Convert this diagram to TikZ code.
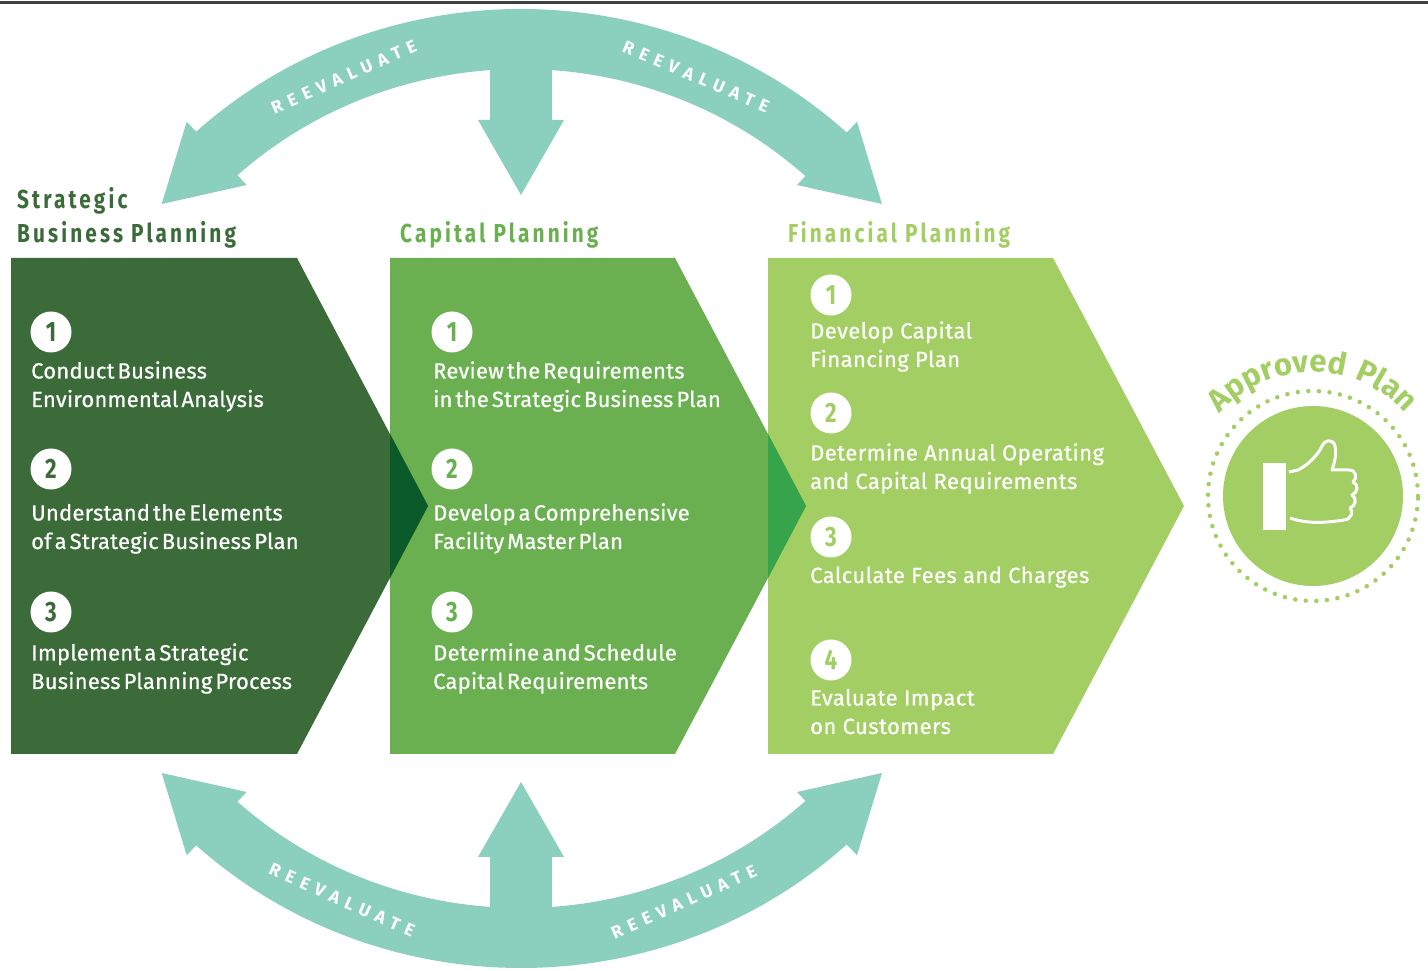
\documentclass[tikz,border=0pt]{standalone}
\usepackage{fontspec}
\setmainfont{Fira Sans}[FakeBold=0.5]
\newfontfamily\bodyfont{Fira Sans}[FakeBold=0.6, WordSpace=0.5, LetterSpace=1]
\newfontfamily\bodyfontB{Fira Sans}[FakeBold=0.6, LetterSpace=2]
\newfontfamily\condfont{Fira Sans}[FakeStretch=0.8, LetterSpace=12]
\newfontfamily\numfont{Fira Sans}[FakeStretch=0.8]
\newfontfamily\capsfont{Fira Sans}[LetterSpace=38]
\newfontfamily\apfont{Fira Sans}[LetterSpace=6]
\usetikzlibrary{decorations.text}
\definecolor{cA}{HTML}{3B6B38}
\definecolor{cB}{HTML}{6AAF50}
\definecolor{cC}{HTML}{A3CE63}
\definecolor{ovA}{HTML}{0B5A29}
\definecolor{ovB}{HTML}{35A44A}
\definecolor{tealband}{HTML}{8BD0BE}
\newcommand\myReevalShape{%
  \coordinate (bl) at (214,814);
  \coordinate (br) at (828,814);
  \draw[bandline] (bl) .. controls (387,970) and (655,970) .. (br);
  \fill[tealband] (161.7,766) -- (186.7,848.3) -- (246.7,785) -- cycle;
  \fill[tealband] (882,766) -- (857,848.3) -- (797,785) -- cycle;
  \fill[tealband] (490,930) rectangle (552,849);
  \fill[tealband] (478,850) -- (564,850) -- (521,775) -- cycle;
}
\begin{document}
\begin{tikzpicture}[x=1pt,y=1pt,
  bandline/.style={draw=tealband, line width=60pt},
  titletext/.style={anchor=base west, inner sep=0pt, font=\condfont\bfseries\fontsize{26}{34}\selectfont},
  itemtext/.style={anchor=base west, inner sep=0pt, align=left, text=white, font=\bodyfont\fontsize{22}{28.5}\selectfont},
  itemtextB/.style={anchor=base west, inner sep=0pt, align=left, text=white, font=\bodyfontB\fontsize{22}{28.5}\selectfont},
  numcircle/.style={circle, fill=white, minimum size=41pt, inner sep=0pt, font=\numfont\bfseries\fontsize{28}{28}\selectfont},
  reeval/.style={text=white, inner sep=0pt, font=\capsfont\bfseries\fontsize{17.5}{17.5}\selectfont}
]
\useasboundingbox (0,0) rectangle (1428,970);
\fill[white] (0,0) rectangle (1428,970);
\draw[line width=3pt, black!75] (0,967.5) -- (1428,967.5);

% re-evaluate arrows
\myReevalShape
\begin{scope}[yshift=963pt, yscale=-1]
\myReevalShape
\end{scope}
\node[reeval, rotate=24] (rv1) at (344,893) {REEVALUATE};
\node[reeval, rotate=-23] (rv2) at (696,893) {REEVALUATE};
\node[reeval, rotate=-24] (rv3) at (342,70) {REEVALUATE};
\node[reeval, rotate=24] (rv4) at (684,68) {REEVALUATE};

% chevrons
\fill[cC] (768,712) -- (1053,712) -- (1184,464) -- (1053,216) -- (768,216) -- cycle;
\fill[cB] (390,712) -- (675,712) -- (806,464) -- (675,216) -- (390,216) -- cycle;
\fill[cA] (11,712) -- (297,712) -- (428,464) -- (297,216) -- (11,216) -- cycle;
\fill[ovA] (390,536) -- (428,464) -- (390,392) -- cycle;
\fill[ovB] (768,536) -- (806,464) -- (768,392) -- cycle;

% titles
\node[titletext, text=cA] (t1a) at (17,761) {Strategic};
\node[titletext, text=cA] (t1b) at (17,727) {Business Planning};
\node[titletext, text=cB] (t2) at (400,727) {Capital Planning};
\node[titletext, text=cC] (t3) at (788,727) {Financial Planning};

% chevron 1 (base = last line)
\node[numcircle, text=cA] (n11) at (51,638) {1};
\node[itemtext] (i11) at (31,563) {Conduct Business\\Environmental Analysis};
\node[numcircle, text=cA] (n12) at (51,501) {2};
\node[itemtext] (i12) at (31,421) {Understand the Elements\\of a Strategic Business Plan};
\node[numcircle, text=cA] (n13) at (51,358) {3};
\node[itemtext] (i13) at (31,281) {Implement a Strategic\\Business Planning Process};

% chevron 2
\node[numcircle, text=cB] (n21) at (452,638) {1};
\node[itemtext] (i21) at (433,563) {Review the Requirements\\in the Strategic Business Plan};
\node[numcircle, text=cB] (n22) at (452,501) {2};
\node[itemtext] (i22) at (433,421) {Develop a Comprehensive\\Facility Master Plan};
\node[numcircle, text=cB] (n23) at (452,358) {3};
\node[itemtext] (i23) at (433,281) {Determine and Schedule\\Capital Requirements};

% chevron 3
\node[numcircle, text=cC] (n31) at (831,675) {1};
\node[itemtextB] (i31) at (810,603) {Develop Capital\\Financing Plan};
\node[numcircle, text=cC] (n32) at (831,557) {2};
\node[itemtextB] (i32) at (810,481) {Determine Annual Operating\\and Capital Requirements};
\node[numcircle, text=cC] (n33) at (831,433) {3};
\node[itemtextB] (i33) at (810,387) {Calculate Fees and Charges};
\node[numcircle, text=cC] (n34) at (831,310) {4};
\node[itemtextB] (i34) at (810,236) {Evaluate Impact\\on Customers};

% approved plan
\node[circle, fill=cC, minimum size=180pt, inner sep=0pt] (ap) at (1313,474) {};
\draw[cC, line width=4.5pt, line cap=round, dash pattern=on 0pt off 10.6pt] (ap.center) circle[radius=105];
\path[decorate, decoration={text along path, text={|\apfont\bfseries\fontsize{31}{31}\selectfont|Approved Plan}, text align=center, text color=cC}]
  (1205.3,536) arc[start angle=150, end angle=30, radius=124];
\fill[white] (1263,440) rectangle (1286,507);
\draw[white, line width=3pt, line join=round]
  (1289,498) -- (1298,500)
  .. controls (1308,505) and (1318,515) .. (1322,524)
  .. controls (1324,530) and (1333,532) .. (1335,524)
  .. controls (1337,515) and (1334,506) .. (1332,500)
  -- (1349,500)
  .. controls (1356,500) and (1358,492) .. (1353,488)
  .. controls (1359,486) and (1358,477) .. (1352,475)
  .. controls (1357,472) and (1356,464) .. (1350,462)
  .. controls (1354,459) and (1351,450) .. (1344,450)
  .. controls (1330,448) and (1310,445) .. (1290,452);
\end{tikzpicture}
\end{document}
